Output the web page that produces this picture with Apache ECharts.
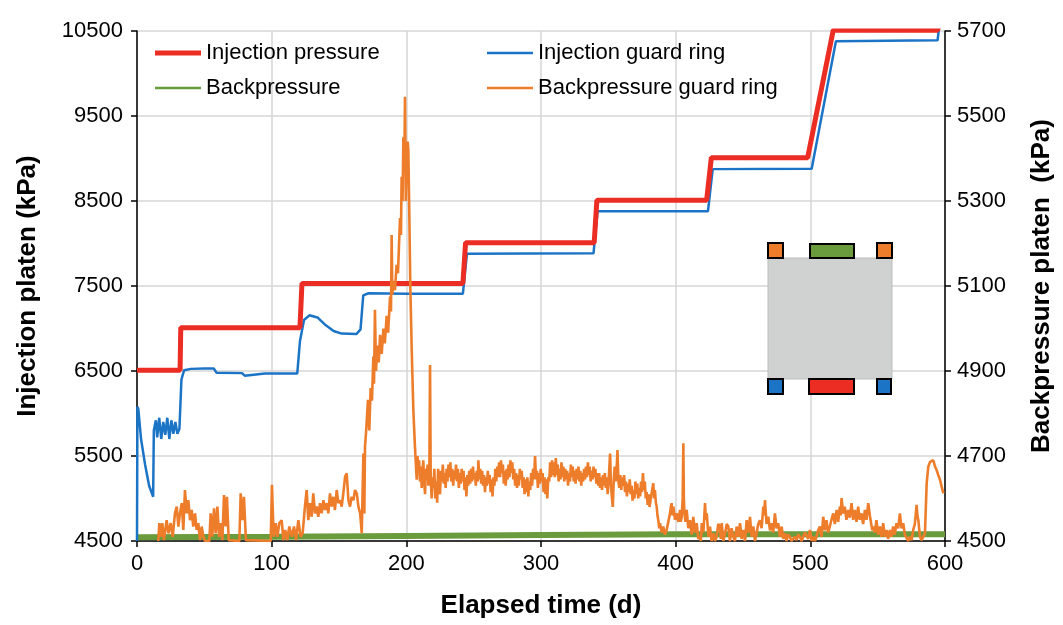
<!DOCTYPE html>
<html>
<head>
<meta charset="utf-8">
<title>Platen pressures</title>
<script src="https://cdn.jsdelivr.net/npm/echarts@6.0.0/dist/echarts.min.js"></script>
<style>
    html, body { margin: 0; padding: 0; background: #fff; }
    #chart { width: 1063px; height: 625px; }
</style>
</head>
<body>
<div id="chart"></div>
<script>
// all series are [elapsed day, kPa]
var injectionPressure = [
    [0, 6510], [32, 6510], [32.5, 7010], [121, 7010], [122.5, 7530], [242, 7530],
    [244, 8010], [339.5, 8010], [341.5, 8510], [423, 8510], [426.5, 9010], [498, 9010],
    [517, 10510], [594.5, 10510], [596, 10600]
];

var injectionGuardRing = [
    [0, 4500], [0.3, 6080], [1, 6050], [3, 5700], [6, 5400], [9, 5150], [12, 5020],
    [12.5, 5800], [14, 5920], [15, 5720], [16.5, 5950], [18, 5700], [19.5, 5900], [21, 5750],
    [22.5, 5950], [24, 5700], [25.5, 5920], [27, 5760], [28.5, 5900], [30, 5760], [31.5, 5820],
    [33, 6400], [35, 6510], [40, 6525], [50, 6530], [57, 6530], [59, 6480], [78, 6475],
    [80, 6445], [95, 6470], [119, 6470], [121, 6850], [124, 7100], [128, 7155], [134, 7130],
    [140, 7040], [146, 6970], [152, 6940], [163, 6935], [166, 6990], [168, 7390], [172, 7415],
    [200, 7410], [242, 7410], [245, 7880], [339, 7885], [342, 8380], [424, 8380],
    [427.5, 8875], [501, 8880], [519, 10380], [594.5, 10390], [596, 10600]
];

var backpressure = [
    [0, 4509], [100, 4510], [200, 4512], [300, 4514], [400, 4516], [500, 4516], [600, 4516]
];

var backpressureGuardRing = [
    [15.8, 4500], [16.6, 4542], [17.6, 4510], [18.8, 4542], [20, 4502], [22, 4549], [23.3, 4518],
    [25, 4542], [26.5, 4510], [28.2, 4565], [29.5, 4581], [30.7, 4534], [31.9, 4565], [33.2, 4589],
    [34.4, 4526], [35.6, 4620], [36.9, 4565], [38.1, 4596], [39.4, 4549], [40.6, 4573], [41.8, 4534],
    [43.1, 4565], [44.3, 4526], [45.5, 4542], [46.8, 4502], [48, 4534], [49.3, 4510], [50.5, 4500],
    [53.7, 4500], [54.7, 4565], [55.9, 4510], [57.2, 4577], [58.4, 4518], [59.7, 4581], [60.9, 4510],
    [62.1, 4542], [63.4, 4502], [64.6, 4608], [65.8, 4534], [66.8, 4604], [68.1, 4502], [69.1, 4500],
    [76, 4500], [77, 4612], [78.2, 4549], [79.4, 4604], [80.9, 4502], [81.9, 4500],
    [99.3, 4500], [100.2, 4632], [101.5, 4510], [103, 4542], [104.2, 4510], [105.7, 4542],
    [107.4, 4549], [108.7, 4502], [110.1, 4526], [111.6, 4502], [113.1, 4534], [114.9, 4510],
    [116.6, 4534], [118.1, 4502], [119.8, 4549], [121.5, 4510], [123, 4518], [124.7, 4581],
    [126, 4620], [127.2, 4549], [128.5, 4589], [129.7, 4557], [130.9, 4612], [132.2, 4565],
    [133.4, 4581], [134.6, 4557], [135.9, 4589], [137.1, 4565], [138.4, 4596], [139.6, 4573],
    [140.9, 4589], [142.1, 4565], [143.3, 4612], [144.6, 4581], [145.8, 4604], [147, 4573],
    [148.3, 4620], [149.5, 4589], [150.8, 4596], [152, 4581], [153.2, 4612], [154.5, 4651],
    [155.7, 4659], [157, 4596], [158.2, 4581], [159.4, 4604], [160.7, 4596], [161.9, 4620],
    [163.2, 4612], [164.4, 4581], [165.7, 4565], [166.9, 4518], [168.1, 4706], [168.8, 4565],
    [169.3, 4722], [170.2, 4761], [171.5, 4832], [172.5, 4760], [173.5, 4860], [174.5, 4830],
    [175.5, 4934], [176, 4870], [176.7, 5044], [177.5, 4900], [178.5, 4960], [179.5, 4920],
    [180.5, 4985], [181.7, 4940], [183, 5000], [184, 4965], [185.4, 5030], [186.5, 4990],
    [187.9, 5075], [188.6, 5040], [189.1, 5220], [189.6, 5080], [190.3, 5110], [191.5, 5090],
    [192.8, 5150], [193.8, 5130], [195.3, 5260], [196, 5220], [196.5, 5357], [197.2, 5300],
    [197.8, 5450], [198.5, 5380], [199, 5545], [199.6, 5300], [200.2, 5380], [201, 5440],
    [201.5, 5420], [202.3, 5250], [203, 5091], [204, 4950], [205.2, 4808], [206.4, 4722],
    [207.7, 4644], [208.3, 4700], [208.9, 4660], [209.5, 4690], [210.1, 4640], [210.8, 4675],
    [211.4, 4625], [212, 4660], [212.6, 4690], [213.2, 4640], [213.9, 4610], [214.5, 4670],
    [215.1, 4650], [215.8, 4680], [216.4, 4630], [217.1, 4660], [217.6, 4914], [218.1, 4650],
    [218.8, 4600], [219.5, 4650], [220.1, 4625], [220.8, 4670], [221.5, 4600], [222.2, 4640],
    [222.9, 4590], [223.6, 4670], [224.3, 4630], [225, 4610], [225.7, 4665], [226.4, 4640],
    [227.1, 4680], [227.8, 4635], [228.5, 4660], [229.2, 4625], [229.9, 4670], [230.6, 4640],
    [231.3, 4680], [232, 4650], [232.7, 4685], [233.4, 4640], [234.1, 4670], [234.8, 4630],
    [235.5, 4665], [236.2, 4645], [236.9, 4680], [237.6, 4640], [238.3, 4670], [239, 4625],
    [239.7, 4660], [240.4, 4635], [241.1, 4670], [241.8, 4640], [242.5, 4665], [243.2, 4620],
    [243.9, 4650], [244.6, 4605], [245.3, 4655], [246, 4630], [246.7, 4665], [247.4, 4635],
    [248.1, 4670], [248.8, 4640], [249.5, 4675], [250.2, 4645], [250.9, 4660], [251.6, 4630],
    [252.3, 4665], [253, 4640], [253.5, 4690], [254.2, 4645], [254.9, 4670], [255.6, 4635],
    [256.3, 4665], [257, 4630], [257.7, 4655], [258.4, 4615], [259.1, 4650], [259.8, 4630],
    [260.5, 4665], [261.2, 4635], [261.9, 4655], [262.6, 4615], [263.3, 4645], [264, 4605],
    [264.7, 4650], [265.4, 4630], [266.1, 4670], [266.8, 4640], [267.5, 4675], [268.2, 4650],
    [268.9, 4685], [269.6, 4650], [270.3, 4690], [271, 4660], [271.7, 4680], [272.4, 4635],
    [273.1, 4665], [273.8, 4630], [274.5, 4670], [275.2, 4645], [275.9, 4680], [276.6, 4650],
    [277.3, 4690], [278, 4660], [278.7, 4685], [279.4, 4645], [280.1, 4670], [280.8, 4630],
    [281.5, 4660], [282.2, 4625], [282.9, 4655], [283.6, 4630], [284.3, 4670], [285, 4645],
    [285.7, 4665], [286.4, 4625], [287.1, 4650], [287.8, 4610], [288.5, 4645], [289.2, 4615],
    [289.9, 4650], [290.6, 4605], [291.3, 4640], [292, 4620], [292.7, 4660], [293.4, 4630],
    [294.1, 4670], [294.8, 4645], [295.6, 4700], [296.3, 4645], [297, 4665], [297.7, 4625],
    [298.4, 4660], [299.1, 4635], [299.8, 4670], [300.5, 4640], [301.2, 4660], [301.9, 4615],
    [302.6, 4650], [303.3, 4610], [304, 4645], [304.7, 4600], [305.4, 4650], [306.1, 4640],
    [306.8, 4685], [307.5, 4650], [308.2, 4690], [308.9, 4655], [309.6, 4685], [310.3, 4650],
    [311, 4695], [311.7, 4655], [312.4, 4680], [313.1, 4640], [313.8, 4670], [314.5, 4645],
    [315.2, 4685], [315.9, 4650], [316.6, 4675], [317.3, 4640], [318, 4670], [318.7, 4645],
    [319.4, 4665], [320.1, 4630], [320.8, 4660], [321.5, 4640], [322.2, 4680], [322.9, 4650],
    [323.6, 4675], [324.3, 4640], [325, 4665], [325.7, 4635], [326.4, 4670], [327.1, 4645],
    [327.8, 4675], [328.5, 4640], [329.2, 4665], [329.9, 4630], [330.6, 4660], [331.3, 4640],
    [332, 4670], [332.7, 4645], [333.4, 4675], [334.1, 4650], [334.8, 4685], [335.5, 4655],
    [336.2, 4675], [336.9, 4640], [337.6, 4665], [338.3, 4645], [339, 4675], [339.7, 4650],
    [340.4, 4670], [341.1, 4635], [341.8, 4660], [342.5, 4630], [343.2, 4660], [343.9, 4625],
    [344.6, 4650], [345.3, 4620], [346, 4655], [346.7, 4630], [347.4, 4660], [348.1, 4625],
    [348.8, 4650], [349.5, 4610], [350.2, 4640], [351.3, 4706], [352, 4630], [352.7, 4600],
    [353.3, 4580], [354, 4640], [354.7, 4675], [355.4, 4640], [356.1, 4665], [356.8, 4714],
    [357.5, 4640], [358.2, 4625], [358.9, 4655], [359.6, 4620], [360.3, 4650], [361, 4630],
    [361.7, 4655], [362.4, 4615], [363.1, 4640], [363.8, 4605], [364.5, 4635], [365.2, 4615],
    [365.9, 4645], [366.6, 4610], [367.3, 4630], [368, 4595], [368.7, 4620], [369.4, 4600],
    [370.1, 4640], [370.8, 4610], [371.5, 4635], [372.2, 4600], [372.9, 4625], [373.6, 4605],
    [374.3, 4640], [375, 4615], [375.7, 4660], [376.4, 4620], [377.1, 4640], [377.8, 4600],
    [378.5, 4615], [379.2, 4585], [379.9, 4610], [380.6, 4580],
    [381, 4581], [382.1, 4612], [383.4, 4636], [384, 4600], [384.6, 4620], [385.3, 4590],
    [385.9, 4581], [386.5, 4560], [387.1, 4549], [387.8, 4530], [388.4, 4542], [389.6, 4520],
    [390.8, 4534], [392, 4515], [393.3, 4526], [394.5, 4545], [395.8, 4565], [396.4, 4580],
    [397, 4589], [397.6, 4560], [398.3, 4581], [399.5, 4550], [400.7, 4565], [402, 4545],
    [403.2, 4573], [403.8, 4545], [404.5, 4557], [405.2, 4600], [405.7, 4730], [406.1, 4600],
    [406.5, 4565], [407.3, 4545], [408.2, 4573], [409.4, 4530], [410.7, 4549], [411.9, 4515],
    [413.1, 4557], [414.3, 4520], [415.6, 4542], [416.8, 4505], [418.1, 4510], [418.7, 4500],
    [419.4, 4542], [420.6, 4520], [421.8, 4589], [422.4, 4550], [423.1, 4565], [424.3, 4510],
    [425.5, 4534], [426.7, 4500], [428, 4518], [429.2, 4500], [430.4, 4510], [431.6, 4540],
    [432.9, 4534], [433.5, 4505], [434.2, 4542], [435.4, 4500], [436.7, 4518], [437.9, 4540],
    [439.1, 4534], [440.3, 4500], [441.5, 4530], [442.8, 4510], [444, 4500], [445.3, 4534],
    [446.5, 4510], [447.8, 4542], [449, 4505], [450.3, 4526], [451.5, 4500], [452.7, 4549],
    [454, 4520], [455.2, 4557], [456.4, 4510], [457.7, 4534], [458.9, 4500], [460.1, 4518],
    [461.3, 4540], [462.6, 4549], [463.8, 4530], [465.1, 4581], [465.7, 4560], [466.3, 4596],
    [467.5, 4540], [468.8, 4557], [470, 4525], [471.2, 4542], [472.4, 4520], [473.7, 4565],
    [474.9, 4530], [476.2, 4542], [477.4, 4510], [478.7, 4534], [479.9, 4505], [481.1, 4518],
    [482.3, 4500], [483.5, 4515], [484.8, 4510], [486, 4500], [487.3, 4502], [488.5, 4510],
    [489.8, 4502], [491, 4515], [492.3, 4510], [493.5, 4500], [494.7, 4502], [496, 4520],
    [497.2, 4518], [498.4, 4505], [499.7, 4526], [501, 4500], [502.2, 4510], [503.4, 4500],
    [504.6, 4510], [505.8, 4525], [507.1, 4534], [508.3, 4510], [509.6, 4557], [510.8, 4525],
    [512, 4549], [513.2, 4520], [514.5, 4534], [515.7, 4550], [517, 4565], [518.2, 4540],
    [519.5, 4573], [520.7, 4545], [521.9, 4581], [522.5, 4560], [523.2, 4601], [524.4, 4565],
    [525.6, 4581], [526.8, 4550], [528.1, 4573], [529.3, 4555], [530.6, 4589], [531.8, 4550],
    [533.1, 4573], [534.3, 4545], [535.5, 4581], [536.7, 4550], [538, 4565], [539.2, 4540],
    [540.5, 4573], [541.7, 4550], [543, 4589], [544.2, 4560], [545.4, 4557], [546, 4525],
    [546.7, 4534], [547.9, 4520], [549.1, 4549], [550.3, 4515], [551.6, 4534], [552.8, 4510],
    [554.1, 4542], [555.3, 4510], [556.6, 4526], [557.8, 4505], [559.1, 4526], [560.3, 4510],
    [561.5, 4534], [562.7, 4515], [564, 4542], [565.2, 4530], [566.5, 4565], [567.7, 4530],
    [569, 4542], [570.2, 4515], [571.5, 4518], [572.7, 4500], [573.9, 4510], [575.2, 4502],
    [576.4, 4526], [577.6, 4540], [578.9, 4585], [579.5, 4560], [580.2, 4549], [581.4, 4510],
    [582.6, 4502], [583.9, 4500], [585.1, 4518], [586.4, 4636], [587.6, 4675], [588.9, 4686],
    [590.1, 4683], [591.3, 4690], [592.6, 4675], [593.8, 4667], [595, 4655], [596.3, 4644],
    [597.5, 4628], [598.8, 4612]
];

var leftTicks = { min: 4500, max: 10500, interval: 1000 };
var rightTicks = { min: 4500, max: 5700, interval: 200 };
var dayTicks = { min: 0, max: 600, interval: 100 };

var RED = '#ec2d24';
var BLUE = '#1c74c6';
var GREEN = '#6a9b3c';
var ORANGE = '#ee7d2b';
var FONT = '"Liberation Sans", Arial, sans-serif';

var myChart = echarts.init(document.getElementById('chart'), null, { renderer: 'canvas' });

// legend icon: a bar of given thickness inside a 46x20 box
// (the two tiny corner specks pin the box so the bar is not stretched)
function lineIcon(thick) {
    var top = 10 - thick / 2, bot = 10 + thick / 2;
    return 'path://M0,0 L0.01,0 L0.01,0.01 Z M0,' + top + ' L46,' + top + ' L46,' + bot + ' L0,' + bot +
        ' Z M45.99,19.99 L46,19.99 L46,20 Z';
}

// little sketch of the cell with the platens and guard rings
function box(x, y, w, h, color) {
    return {
        type: 'rect',
        shape: { x: x, y: y, width: w, height: h },
        style: { fill: color, stroke: '#000', lineWidth: 2 },
        z: 10
    };
}

var plainNumber = function (v) { return String(v); };

var option = {
    animation: false,
    backgroundColor: '#fff',
    textStyle: { fontFamily: FONT, color: '#000' },
    grid: { left: 137, right: 118, top: 31, bottom: 84, containLabel: false },
    legend: [
        {
            orient: 'vertical', left: 150, top: 37, itemWidth: 46, itemHeight: 20, itemGap: 13,
            data: [
                { name: 'Injection pressure', icon: lineIcon(5) },
                { name: 'Backpressure', icon: lineIcon(2.5) }
            ],
            textStyle: { fontSize: 22, color: '#000', fontFamily: FONT }
        },
        {
            orient: 'vertical', left: 482, top: 37, itemWidth: 46, itemHeight: 20, itemGap: 13,
            data: [
                { name: 'Injection guard ring', icon: lineIcon(2.5) },
                { name: 'Backpressure guard ring', icon: lineIcon(2.5) }
            ],
            textStyle: { fontSize: 22, color: '#000', fontFamily: FONT }
        }
    ],
    xAxis: {
        type: 'value',
        min: dayTicks.min, max: dayTicks.max, interval: dayTicks.interval,
        name: 'Elapsed time (d)',
        nameLocation: 'middle',
        nameGap: 52,
        nameTextStyle: { fontSize: 26, fontWeight: 'bold', color: '#000', fontFamily: FONT },
        axisLine: { onZero: false, lineStyle: { color: '#000', width: 1.5 } },
        axisTick: { show: true, inside: false, length: 6, lineStyle: { color: '#000', width: 1.5 } },
        axisLabel: { fontSize: 22, color: '#000', margin: 12, fontFamily: FONT, formatter: plainNumber },
        splitLine: { show: true, lineStyle: { color: '#d6d6d6', width: 1.5 } }
    },
    yAxis: [
        {
            type: 'value',
            position: 'left',
            min: leftTicks.min, max: leftTicks.max, interval: leftTicks.interval,
            name: 'Injection platen (kPa)',
            nameLocation: 'middle',
            nameGap: 96,
            nameTextStyle: { fontSize: 26, fontWeight: 'bold', color: '#000', fontFamily: FONT },
            axisLine: { show: true, lineStyle: { color: '#000', width: 1.5 } },
            axisTick: { show: true, length: 6, lineStyle: { color: '#000', width: 1.5 } },
            axisLabel: { fontSize: 22, color: '#000', margin: 14, fontFamily: FONT, formatter: plainNumber },
            splitLine: { show: true, lineStyle: { color: '#d6d6d6', width: 1.5 } }
        },
        {
            type: 'value',
            position: 'right',
            min: rightTicks.min, max: rightTicks.max, interval: rightTicks.interval,
            name: 'Backpressure platen  (kPa)',
            nameLocation: 'middle',
            nameGap: 84,
            nameRotate: 90,
            nameTextStyle: { fontSize: 26, fontWeight: 'bold', color: '#000', fontFamily: FONT },
            axisLine: { show: true, lineStyle: { color: '#000', width: 1.5 } },
            axisTick: { show: true, length: 6, lineStyle: { color: '#000', width: 1.5 } },
            axisLabel: { fontSize: 22, color: '#000', margin: 12, fontFamily: FONT, formatter: plainNumber },
            splitLine: { show: false }
        }
    ],
    series: [
        {
            name: 'Backpressure', type: 'line', yAxisIndex: 1, data: backpressure,
            symbol: 'none', color: GREEN, lineStyle: { width: 6, color: GREEN }
        },
        {
            name: 'Injection guard ring', type: 'line', yAxisIndex: 0, data: injectionGuardRing,
            symbol: 'none', color: BLUE, lineStyle: { width: 2.5, color: BLUE }
        },
        {
            name: 'Injection pressure', type: 'line', yAxisIndex: 0, data: injectionPressure,
            symbol: 'none', color: RED, lineStyle: { width: 5, color: RED }
        },
        {
            name: 'Backpressure guard ring', type: 'line', yAxisIndex: 1, data: backpressureGuardRing,
            symbol: 'none', color: ORANGE, lineStyle: { width: 2.6, color: ORANGE }
        }
    ],
    graphic: [
        {
            type: 'rect',
            shape: { x: 768, y: 258, width: 124, height: 121 },
            style: { fill: '#d0d1d1', stroke: '#bdbdbd', lineWidth: 1 },
            z: 9
        },
        box(768, 243, 15, 15, ORANGE),
        box(810, 244, 44, 14, GREEN),
        box(877, 243, 15, 15, ORANGE),
        box(768, 379, 15, 15, BLUE),
        box(809, 379, 45, 15, RED),
        box(877, 379, 14, 15, BLUE)
    ]
};

myChart.setOption(option);
</script>
</body>
</html>
